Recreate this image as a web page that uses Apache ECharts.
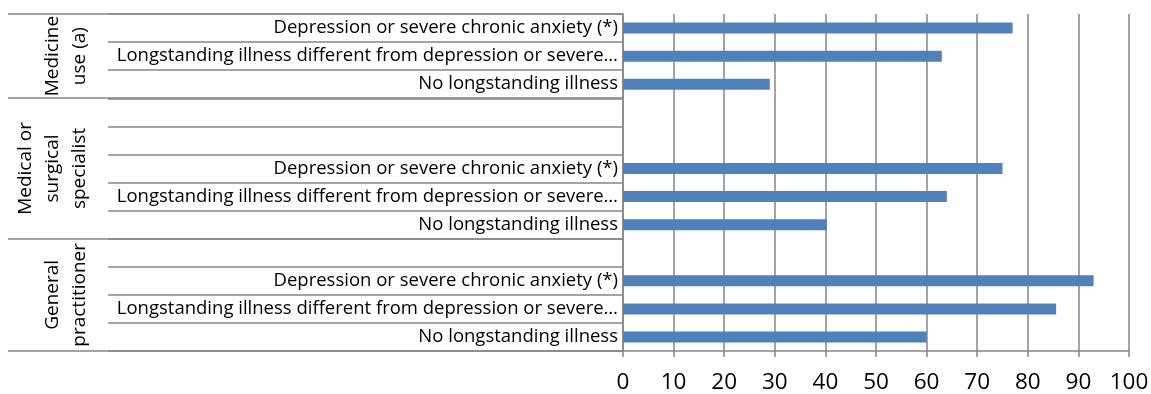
<!DOCTYPE html>
<html>
<head>
<meta charset="utf-8">
<script src="https://cdn.jsdelivr.net/npm/echarts@6/dist/echarts.min.js"></script>
<style>
  html, body { margin: 0; padding: 0; background: #fff; }
  #chart { width: 1151px; height: 394px; }
</style>
</head>
<body>
<div id="chart"></div>
<script>
// Outer groups (drawn rotated on the left), top to bottom
const groupNames = ['Medicine\nuse (a)', 'Medical or\nsurgical\nspecialist', 'General\npractitioner'];
// Empty rows at the top of each group
const groupBlankRows = [0, 2, 1];
// Inner categories, repeated inside every group
const illnessLabels = [
  'Depression or severe chronic anxiety (*)',
  'Longstanding illness different from depression or severe…',
  'No longstanding illness'
];
// Percentages per group, in the order of illnessLabels
const medicineUse = [77, 63, 29];
const specialistVisits = [75, 64, 40.3];
const gpVisits = [93, 85.6, 60];
const groupValues = [medicineUse, specialistVisits, gpVisits];
// Value axis ticks
const xTicks = [0, 10, 20, 30, 40, 50, 60, 70, 80, 90, 100];

// Flatten groups into one row list (top to bottom)
const rowLabels = [];
const rowValues = [];
const groupStart = [];
groupNames.forEach((g, gi) => {
  groupStart.push(rowLabels.length);
  for (let b = 0; b < groupBlankRows[gi]; b++) { rowLabels.push(''); rowValues.push(null); }
  illnessLabels.forEach((lab, li) => { rowLabels.push(lab); rowValues.push(groupValues[gi][li]); });
});
const rowCount = rowLabels.length;

const FONT = '"Open Sans", "DejaVu Sans", sans-serif';
const GRID_GRAY = '#868686';
const LINE_W = 1.5;

const chart = echarts.init(document.getElementById('chart'), null, { renderer: 'canvas' });

chart.setOption({
  animation: false,
  backgroundColor: '#fff',
  grid: { left: 623, right: 22, top: 14, bottom: 43, containLabel: false, outerBoundsMode: 'none' },
  xAxis: {
    type: 'value',
    min: xTicks[0],
    max: xTicks[xTicks.length - 1],
    interval: xTicks[1] - xTicks[0],
    axisLine: { show: true, lineStyle: { color: GRID_GRAY, width: LINE_W } },
    axisTick: { show: true, length: 6, lineStyle: { color: GRID_GRAY, width: LINE_W } },
    splitLine: { show: true, lineStyle: { color: GRID_GRAY, width: LINE_W } },
    axisLabel: { color: '#000', fontSize: 22.5, fontFamily: FONT, margin: 20 }
  },
  yAxis: {
    type: 'category',
    inverse: true,
    data: rowLabels.map((_, i) => String(i)),
    axisLine: { show: true, lineStyle: { color: GRID_GRAY, width: LINE_W } },
    axisTick: { show: true, length: 515, lineStyle: { color: GRID_GRAY, width: LINE_W } },
    splitLine: { show: false },
    axisLabel: {
      color: '#000', fontSize: 18.5, fontFamily: FONT, margin: 5,
      formatter: (v, i) => rowLabels[i]
    }
  },
  series: [{
    type: 'bar',
    data: rowValues,
    barWidth: 11,
    itemStyle: { color: '#4F81BD' },
    silent: true
  }]
});

// Group separators and rotated group names, placed from the category axis scale
const rowY = i => chart.convertToPixel({ yAxisIndex: 0 }, i);
const rowH = rowY(1) - rowY(0);
const axisX = chart.convertToPixel({ xAxisIndex: 0 }, 0);
const edgeY = i => rowY(i) - rowH / 2; // top edge of row i

const graphics = [];
const bounds = groupStart.concat([rowCount]);
bounds.forEach(b => {
  const y = Math.round(edgeY(b));
  graphics.push({
    type: 'line', silent: true,
    shape: { x1: 8, y1: y, x2: axisX, y2: y },
    style: { stroke: GRID_GRAY, lineWidth: LINE_W }
  });
});
const LINE_H = 27;
const LAST_LINE_X = 80;
groupNames.forEach((g, gi) => {
  const nLines = g.split('\n').length;
  const yc = (edgeY(bounds[gi]) + edgeY(bounds[gi + 1])) / 2;
  graphics.push({
    type: 'text', silent: true,
    x: LAST_LINE_X - (nLines - 1) * LINE_H / 2,
    y: yc,
    rotation: Math.PI / 2,
    style: {
      text: g, fill: '#000', font: '19px ' + FONT,
      lineHeight: LINE_H, align: 'center', verticalAlign: 'middle'
    }
  });
});
chart.setOption({ graphic: graphics });
</script>
</body>
</html>
